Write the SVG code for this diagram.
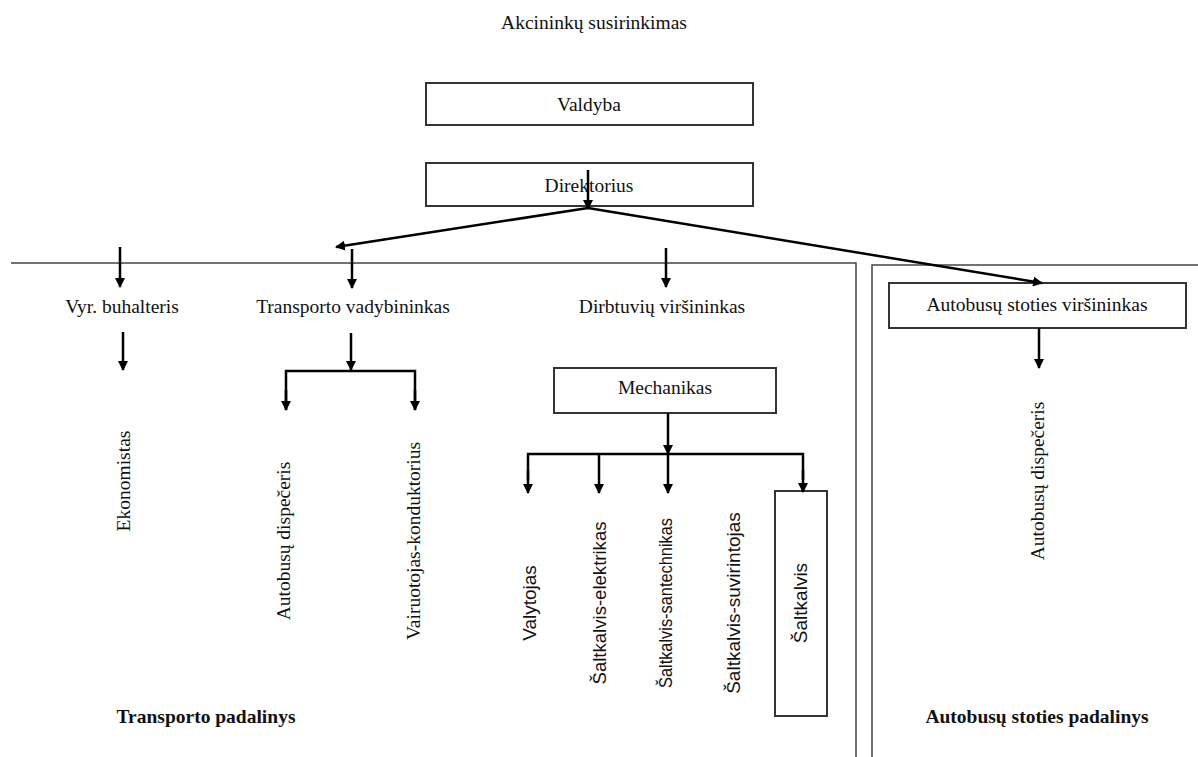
<svg xmlns="http://www.w3.org/2000/svg" width="1198" height="757" viewBox="0 0 1198 757">
<defs>
<marker id="ah" markerWidth="10" markerHeight="10" refX="9" refY="5" orient="auto" markerUnits="userSpaceOnUse">
<path d="M0,0 L10,5 L0,10 z" fill="#000"/>
</marker>
<style>
.t{font-family:"Liberation Serif","Times New Roman",serif;font-size:19.5px;fill:#111;text-anchor:middle}
.s{font-family:"Liberation Sans",Arial,sans-serif;font-size:19px;fill:#111;text-anchor:middle}
.b{font-family:"Liberation Serif","Times New Roman",serif;font-size:19.5px;font-weight:bold;fill:#111;text-anchor:middle}
.box{fill:#fff;stroke:#333;stroke-width:2}
.c{fill:none;stroke:#000;stroke-width:2.5}
.a{fill:none;stroke:#000;stroke-width:2.5;marker-end:url(#ah)}
.f{fill:none;stroke:#444;stroke-width:1.5}
</style>
</defs>
<g id="frames">
<polyline class="f" points="11,263 856,263 856,757"/>
<polyline class="f" points="1198,265 872,265 872,757"/>
</g>
<g id="title"><text class="t" x="594" y="29">Akcininkų susirinkimas</text></g>
<g id="valdyba"><rect class="box" x="426" y="83" width="327" height="42"/><text class="t" x="589" y="111">Valdyba</text></g>
<g id="direktorius"><rect class="box" x="426" y="163" width="327" height="43"/><text class="t" x="589" y="192">Direktorius</text></g>
<g id="buhalteris"><text class="t" x="122" y="313">Vyr. buhalteris</text></g>
<g id="vadybininkas"><text class="t" x="353" y="313">Transporto vadybininkas</text></g>
<g id="dirbtuviu"><text class="t" x="662" y="313">Dirbtuvių viršininkas</text></g>
<g id="mechanikas"><rect class="box" x="554" y="368" width="222" height="45"/><text class="t" x="665" y="394">Mechanikas</text></g>
<g id="stoties"><rect class="box" x="889" y="283" width="297" height="45"/><text class="t" x="1037" y="311">Autobusų stoties viršininkas</text></g>
<g id="ekonomistas"><text class="t" transform="translate(130,481) rotate(-90)">Ekonomistas</text></g>
<g id="dispeceris1"><text class="t" transform="translate(290,541) rotate(-90)">Autobusų dispečeris</text></g>
<g id="vairuotojas"><text class="t" transform="translate(420,541) rotate(-90)">Vairuotojas-konduktorius</text></g>
<g id="valytojas"><text class="s" transform="translate(536,603) rotate(-90)">Valytojas</text></g>
<g id="elektrikas"><text class="s" transform="translate(606,603) rotate(-90)" textLength="163" lengthAdjust="spacingAndGlyphs">Šaltkalvis-elektrikas</text></g>
<g id="santechnikas"><text class="s" transform="translate(672,603) rotate(-90)" textLength="170" lengthAdjust="spacingAndGlyphs">Šaltkalvis-santechnikas</text></g>
<g id="suvirintojas"><text class="s" transform="translate(740,603) rotate(-90)">Šaltkalvis-suvirintojas</text></g>
<g id="saltkalvis"><rect class="box" x="775" y="491" width="52" height="225"/><text class="s" transform="translate(807,603) rotate(-90)">Šaltkalvis</text></g>
<g id="dispeceris2"><text class="t" transform="translate(1044,481) rotate(-90)">Autobusų dispečeris</text></g>
<g id="transporto-padalinys"><text class="b" x="206" y="723">Transporto padalinys</text></g>
<g id="stoties-padalinys"><text class="b" x="1037" y="723">Autobusų stoties padalinys</text></g>
<g id="connectors">
<line class="a" x1="588" y1="170" x2="588" y2="209"/>
<line class="a" x1="588" y1="208" x2="336" y2="247"/>
<line class="a" x1="588" y1="208" x2="1042" y2="283"/>
<line class="a" x1="120" y1="247" x2="120" y2="287"/>
<line class="a" x1="352" y1="249" x2="352" y2="288"/>
<line class="a" x1="666" y1="248" x2="666" y2="287"/>
<line class="a" x1="123" y1="332" x2="123" y2="370"/>
<line class="a" x1="351" y1="333" x2="351" y2="370"/>
<polyline class="c" points="286,410 286,371 415,371 415,410"/>
<line class="a" x1="286" y1="390" x2="286" y2="410"/>
<line class="a" x1="415" y1="390" x2="415" y2="410"/>
<line class="a" x1="668" y1="413" x2="668" y2="454"/>
<polyline class="c" points="528,480 528,454 803,454 803,480"/>
<line class="a" x1="528" y1="470" x2="528" y2="493"/>
<line class="a" x1="599" y1="454" x2="599" y2="493"/>
<line class="a" x1="668" y1="454" x2="668" y2="493"/>
<line class="a" x1="803" y1="470" x2="803" y2="492"/>
<line class="a" x1="1039" y1="328" x2="1039" y2="368"/>
</g>
</svg>
